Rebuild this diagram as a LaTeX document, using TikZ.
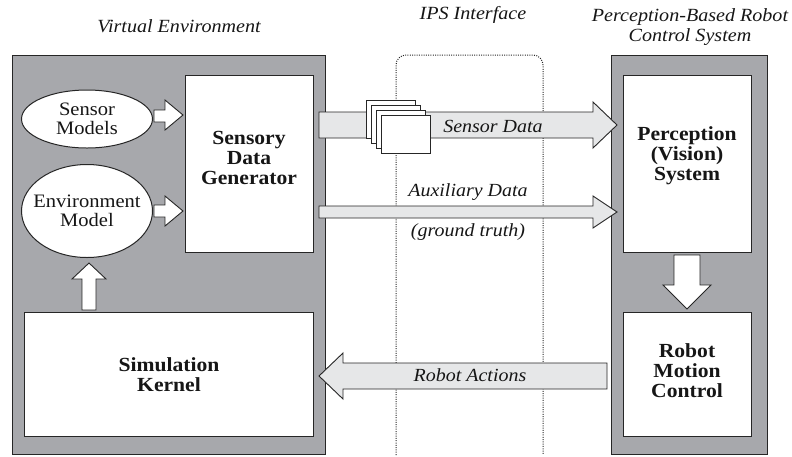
\documentclass[tikz,border=0pt]{standalone}
\usepackage{fontspec}
\setmainfont{Liberation Serif}[FakeStretch=1.08]
\usetikzlibrary{shapes.geometric}
\definecolor{panelgray}{HTML}{A7A8AC}
\definecolor{arrowgray}{HTML}{E6E7E8}
\definecolor{edge}{HTML}{262626}
\definecolor{ink}{HTML}{161616}
\begin{document}
\begin{tikzpicture}[x=1pt,y=-1pt,
  panel/.style={draw=edge, fill=panelgray, line width=1pt, anchor=north west, inner sep=0pt},
  unit/.style={draw=edge, fill=white, line width=1pt, anchor=north west, inner sep=0pt},
  blob/.style={ellipse, draw=edge, fill=white, line width=1pt, inner sep=0pt},
  blockarrow/.style={draw=edge, fill=arrowgray, line width=0.9pt, line join=miter},
  whitearrow/.style={draw=edge, fill=white, line width=0.9pt, line join=miter},
  page/.style={draw=edge, fill=white, line width=0.9pt},
  title/.style={font=\fontsize{18.6}{20}\selectfont\itshape, align=center, text=ink},
  flowlabel/.style={font=\fontsize{18.5}{20}\selectfont\itshape, text=ink},
  boldtext/.style={font=\fontsize{20}{20}\selectfont\bfseries, align=center, text=ink},
  plaintext/.style={font=\fontsize{19}{19.5}\selectfont, align=center, text=ink}]
\useasboundingbox (0,0) rectangle (792,456);

% titles
\node[title] (tve) at (179,26) {Virtual Environment};
\node[title] (tips) at (473,15) {IPS Interface};
\node[title] (tpc) at (690,27) {Perception-Based Robot\\Control System};

% outer panels
\node[panel, minimum width=313pt, minimum height=399pt] (venv) at (12,55) {};
\node[panel, minimum width=156pt, minimum height=399pt] (pbrcs) at (611,55) {};

% interface band
\draw[edge, line width=1pt, dash pattern=on 1pt off 1.3pt, rounded corners=10pt] (396,455) -- (396,55) -- (543,55) -- (543,455);

% inner units
\node[unit, minimum width=128pt, minimum height=177pt] (sdg) at (185,75) {};
\node[boldtext] at (249,158) {Sensory\\Data\\Generator};
\node[unit, minimum width=289pt, minimum height=124pt] (kernel) at (24,312) {};
\node[boldtext] at (kernel.center) {Simulation\\Kernel};
\node[unit, minimum width=128pt, minimum height=177pt] (vision) at (623,75) {};
\node[boldtext] at (687,156) {Perception\\(Vision)\\System};
\node[unit, minimum width=128pt, minimum height=124pt] (motion) at (623,312) {};
\node[boldtext] at (687,371) {Robot\\Motion\\Control};

\node[blob, minimum width=131pt, minimum height=58pt] (sensors) at (87,119) {};
\node[plaintext] at (sensors.center) {Sensor\\Models};
\node[blob, minimum width=131pt, minimum height=93pt] (world) at (87,211) {};
\node[plaintext] at (world.center) {Environment\\Model};

% white block arrows inside the panels
\draw[whitearrow] (154,110) -- (165,110) -- (165,100) -- (183,115) -- (165,130) -- (165,122) -- (154,122) -- cycle;
\draw[whitearrow] (154,205) -- (165,205) -- (165,196) -- (183,211) -- (165,226) -- (165,217) -- (154,217) -- cycle;
\draw[whitearrow] (82,310) -- (82,279) -- (72,279) -- (89,263) -- (106,279) -- (96,279) -- (96,310) -- cycle;
\draw[whitearrow] (674,255) -- (700,255) -- (700,285) -- (711,285) -- (687,309) -- (663,285) -- (674,285) -- cycle;

% data flows across the interface
\draw[blockarrow] (319,112) -- (593,112) -- (593,102) -- (617,125) -- (593,148) -- (593,138) -- (319,138) -- cycle;
\draw[blockarrow] (319,206) -- (593,206) -- (593,196) -- (617,212) -- (593,228) -- (593,218) -- (319,218) -- cycle;
\draw[blockarrow] (607,363) -- (343,363) -- (343,353) -- (319,376) -- (343,399) -- (343,389) -- (607,389) -- cycle;

% stack of sensor frames
\foreach \k in {3,2,1,0}
  \draw[page] (381-4.7*\k,115-4.7*\k) rectangle +(49,38);

\node[flowlabel] (lsd) at (493,126) {Sensor Data};
\node[flowlabel] (lad) at (468,192) {Auxiliary Data};
\node[flowlabel] (lgt) at (468,232) {(ground truth)};
\node[flowlabel] (lra) at (470,375) {Robot Actions};
\end{tikzpicture}
\end{document}
